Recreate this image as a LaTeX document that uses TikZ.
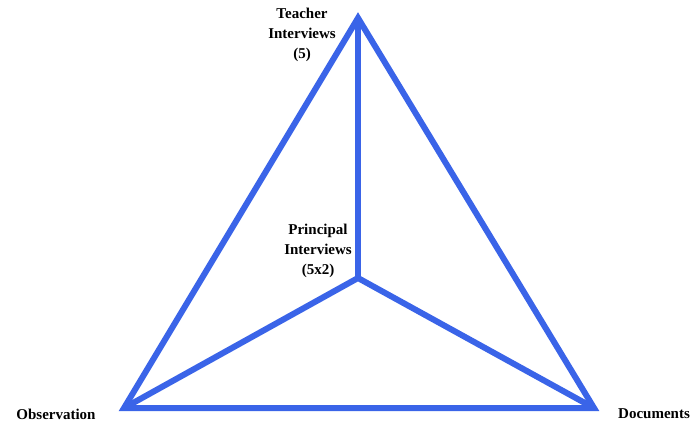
\documentclass[tikz,border=0pt]{standalone}
\usepackage{fontspec}
\setmainfont{Liberation Serif}
\usetikzlibrary{positioning}
\definecolor{triblue}{RGB}{58,100,232}
\tikzset{
  label/.style={font=\fontsize{15}{20}\selectfont\bfseries, align=center, inner sep=0pt},
  side/.style={draw=triblue, line width=6pt, line join=miter}
}
\begin{document}
\begin{tikzpicture}[x=1pt, y=-1pt]
\useasboundingbox (0,0) rectangle (695,423);
\coordinate (top) at (358,18);
\coordinate (obs) at (124,408);
\coordinate (doc) at (594,408);
\coordinate (mid) at (358,278);
\draw[side] (top) -- (obs) -- (doc) -- cycle;
\draw[side] (top) -- (mid);
\draw[side] (obs) -- (mid) -- (doc);
\node[label] (teacher) at (302,35) {Teacher\\Interviews\\(5)};
\node[label] (principal) at (318,251) {Principal\\Interviews\\(5x2)};
\node[label] (observation) at (56,414) {Observation};
\node[label] (documents) at (654,414) {Documents};
\end{tikzpicture}
\end{document}
